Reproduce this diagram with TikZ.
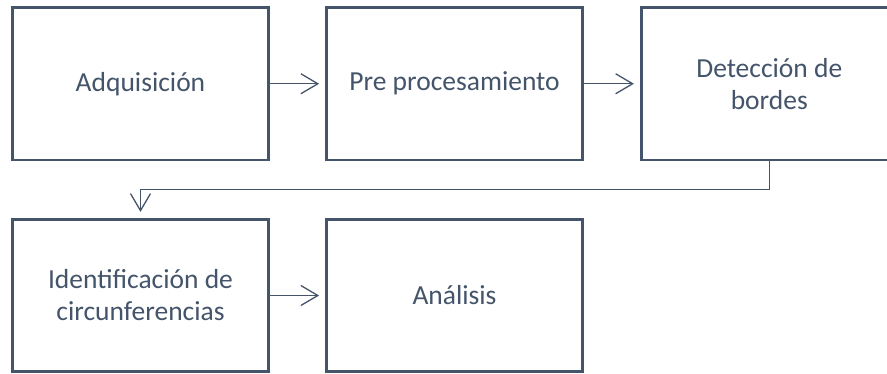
\documentclass[tikz,border=0pt]{standalone}
\usepackage{fontspec}
\setmainfont{Carlito}
\usetikzlibrary{arrows.meta}
\definecolor{slate}{HTML}{44546A}
\begin{document}
\begin{tikzpicture}[x=1pt,y=1pt,
  procbox/.style={draw=slate, line width=2.75pt, fill=white, rectangle,
    minimum width=256pt, minimum height=152.5pt, inner sep=0pt,
    align=center, text=slate, font=\fontsize{27.5}{32}\selectfont},
  flowarrow/.style={draw=slate, line width=1.3pt,
    -{Straight Barb[length=17pt,width=20pt,line width=1.3pt]}}]
\useasboundingbox (0,0) rectangle (887,-373);
\clip (0,0) rectangle (887,-373);
\node[procbox] (adq) at (140.5,-83.75) {Adquisición};
\node[procbox] (pre) at (454.5,-83.75) {Pre procesamiento};
\node[procbox] (det) at (769.3,-83.75) {Detección de\\bordes};
\node[procbox] (ide) at (140.5,-295.5) {Identificación de\\circunferencias};
\node[procbox] (ana) at (454.5,-295.5) {Análisis};
\draw[flowarrow, shorten >=6pt] (adq.east) -- (pre.west);
\draw[flowarrow, shorten >=6pt] (pre.east) -- (det.west);
\draw[flowarrow, shorten >=6pt] (ide.east) -- (ana.west);
\draw[flowarrow, shorten >=6pt] (det.south) -- ++(0,-28) -| (ide.north);
\end{tikzpicture}
\end{document}
